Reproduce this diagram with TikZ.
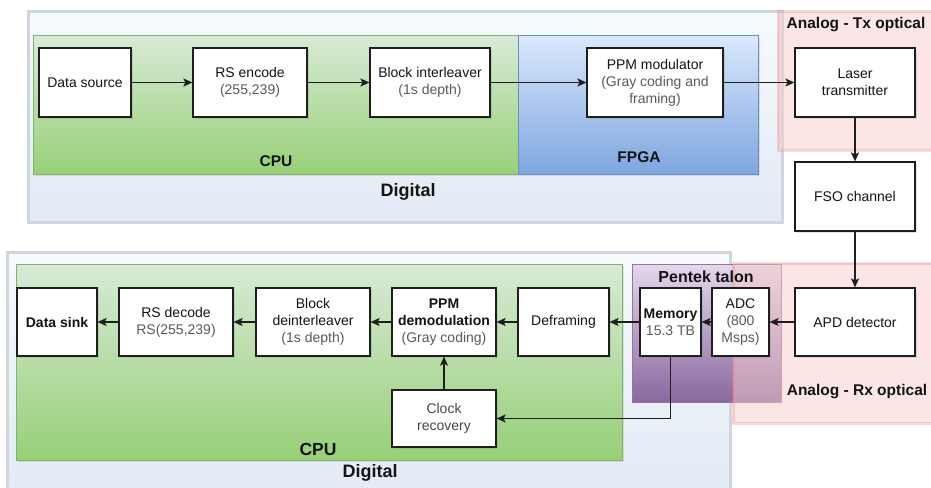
\documentclass[tikz,border=0pt]{standalone}
\usepackage{fontspec}
\setmainfont{Liberation Sans}
\usetikzlibrary{arrows.meta,shadows}
\definecolor{boxline}{HTML}{1E1E1E}
\definecolor{maintext}{HTML}{141414}
\definecolor{subtext}{HTML}{5A5A5A}
\definecolor{digline}{HTML}{D0D6DE}
\definecolor{digtop}{HTML}{F7FAFD}
\definecolor{digbot}{HTML}{E2EAF5}
\definecolor{cputop}{HTML}{D8EAD6}
\definecolor{cpubot}{HTML}{97D077}
\definecolor{cpuline}{HTML}{82B366}
\definecolor{fpgatop}{HTML}{DAE8FC}
\definecolor{fpgabot}{HTML}{7EA6E0}
\definecolor{fpgaline}{HTML}{6C8EBF}
\definecolor{purtop}{HTML}{E4D8EA}
\definecolor{purbot}{HTML}{8A68A0}
\definecolor{purline}{HTML}{9673A6}
\definecolor{redfill}{HTML}{F8CECC}
\definecolor{redline}{HTML}{E07A76}
\tikzset{
  box/.style={draw=boxline, line width=1.2pt, fill=white, align=center, inner sep=1pt,
    text=maintext, font=\fontsize{14}{17}\selectfont,
    drop shadow={shadow xshift=2pt, shadow yshift=-2pt, opacity=0.22}},
  arr/.style={draw=boxline, line width=1.2pt, -{Stealth[length=9pt,width=8pt,inset=2pt]}},
  region/.style={font=\bfseries\fontsize{15.5}{18}\selectfont, text=maintext},
  digregion/.style={draw=digline, line width=3pt, top color=digtop, bottom color=digbot},
  cpuregion/.style={draw=cpuline, line width=1pt, top color=cputop, bottom color=cpubot,
    drop shadow={shadow xshift=2pt, shadow yshift=-2pt, opacity=0.2}},
  fpgaregion/.style={draw=fpgaline, line width=1pt, top color=fpgatop, bottom color=fpgabot,
    drop shadow={shadow xshift=2pt, shadow yshift=-2pt, opacity=0.2}},
  purregion/.style={draw=purline, line width=1pt, top color=purtop, bottom color=purbot},
  redregion/.style={fill=redfill, fill opacity=0.5, draw=redline, draw opacity=0.28, line width=3pt}
}
\begin{document}
\begin{tikzpicture}[x=1pt,y=-1pt]
\clip (0,0) rectangle (931,487);
\fill[white] (0,0) rectangle (931,487);

% ---- containers ----
\path[digregion] (28,12) rectangle (782,222);
\path[digregion] (7,252) rectangle (730,500);
\path[cpuregion] (33,36) rectangle (518,174);
\path[fpgaregion] (518,36) rectangle (758,174);
\path[cpuregion] (16,264) rectangle (622,460);
\path[purregion] (632,264) rectangle (781,402);
\path[redregion] (778,12) rectangle (950,150);
\path[redregion] (733,263) rectangle (950,423);

% ---- region labels ----
\node[region] (cpu1) at (276,161) {CPU};
\node[region] (fpga) at (639,157) {FPGA};
\node[region, font=\bfseries\fontsize{18}{21}\selectfont] (dig1) at (408,192) {Digital};
\node[region] (atx) at (856,25) {Analog - Tx optical};
\node[region, font=\bfseries\fontsize{16}{19}\selectfont] (pent) at (706,277) {Pentek talon};
\node[region] (arx) at (857,392) {Analog - Rx optical};
\node[region, font=\bfseries\fontsize{17.5}{20}\selectfont] (cpu2) at (318,449) {CPU};
\node[region, font=\bfseries\fontsize{18}{21}\selectfont] (dig2) at (370,473) {Digital};

% ---- top row ----
\node[box, minimum width=92pt, minimum height=69pt] (src) at (85,82.5) {Data source};
\node[box, minimum width=114pt, minimum height=69pt] (enc) at (250,82.5) {RS encode\\{\color{subtext}(255,239)}};
\node[box, minimum width=120pt, minimum height=69pt] (intl) at (430,82.5) {Block interleaver\\{\color{subtext}(1s depth)}};
\node[box, minimum width=136pt, minimum height=69pt] (mod) at (655,82.5) {PPM modulator\\{\color{subtext}(Gray coding and}\\{\color{subtext}framing)}};
\node[box, minimum width=120pt, minimum height=69pt] (laser) at (855,82.5) {Laser\\transmitter};
\node[box, minimum width=120pt, minimum height=69pt] (fso) at (855,196.5) {FSO channel};

% ---- bottom row ----
\node[box, minimum width=120pt, minimum height=68pt] (apd) at (855,322) {APD detector};
\node[box, minimum width=57pt, minimum height=68pt] (adc) at (740.5,322) {ADC\\{\color{subtext}(800}\\{\color{subtext}Msps)}};
\node[box, minimum width=61pt, minimum height=68pt] (mem) at (670.5,322) {\textbf{Memory}\\{\color{subtext}15.3 TB}};
\node[box, minimum width=91pt, minimum height=68pt] (defr) at (563.5,322) {Deframing};
\node[box, minimum width=104pt, minimum height=68pt] (demod) at (444,322) {\textbf{PPM}\\\textbf{demodulation}\\{\color{subtext}(Gray coding)}};
\node[box, minimum width=114pt, minimum height=68pt] (deint) at (313,322) {Block\\deinterleaver\\{\color{subtext}(1s depth)}};
\node[box, minimum width=114pt, minimum height=68pt] (dec) at (176,322) {RS decode\\{\color{subtext}RS(255,239)}};
\node[box, minimum width=80pt, minimum height=68pt] (sink) at (57,322) {\textbf{Data sink}};
\node[box, minimum width=104pt, minimum height=57pt, text=subtext!80!black] (clk) at (444,418.5) {Clock\\recovery};

% ---- connectors ----
\draw[arr] (src) -- (enc);
\draw[arr] (enc) -- (intl);
\draw[arr] (intl) -- (mod);
\draw[arr] (mod) -- (laser);
\draw[arr] (laser) -- (fso);
\draw[arr] (fso) -- (apd);
\draw[arr] (apd) -- (adc);
\draw[arr] (adc) -- (mem);
\draw[arr] (mem) -- (defr);
\draw[arr] (defr) -- (demod);
\draw[arr] (demod) -- (deint);
\draw[arr] (deint) -- (dec);
\draw[arr] (dec) -- (sink);
\draw[arr] (clk) -- (demod);
\draw[arr] (mem.south) |- (clk.east);
\end{tikzpicture}
\end{document}
